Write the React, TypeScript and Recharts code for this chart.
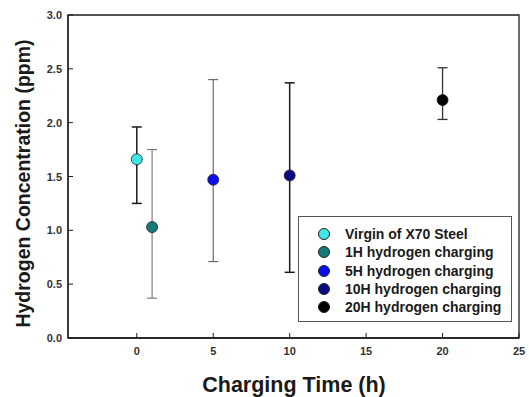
import {
  ErrorBar,
  ReferenceArea,
  Scatter,
  ScatterChart,
  XAxis,
  YAxis,
} from 'recharts'

// charging time (h) and measured hydrogen concentration (ppm)
const seriesNames = [
  'Virgin of X70 Steel',
  '1H hydrogen charging',
  '5H hydrogen charging',
  '10H hydrogen charging',
  '20H hydrogen charging',
]
const chargingTimes = [0, 1, 5, 10, 20]
const concentrations = [1.66, 1.03, 1.47, 1.51, 2.21]
const upperValues = [1.96, 1.75, 2.4, 2.37, 2.51]
const lowerValues = [1.25, 0.37, 0.71, 0.61, 2.03]

const xTicks = [0, 5, 10, 15, 20, 25]
const yTicks = [0, 0.5, 1, 1.5, 2, 2.5, 3]

const fills = ['#3ee6e6', '#167a7a', '#0a0ff0', '#0a0a86', '#000000']
const barColors = ['#1a1a1a', '#666666', '#6a6a6a', '#1a1a1a', '#333333']
const barWidths = [1.5, 1, 1.2, 1.5, 1.3]

const FONT = '"Liberation Sans", Arial, sans-serif'
const AXIS = '#1e1e1e'

function XTick({ x, y, payload }: any) {
  return (
    <g>
      <line x1={x} x2={x} y1={y} y2={y - 5} stroke={AXIS} strokeWidth={1} />
      <text
        x={x}
        y={y + 17}
        textAnchor="middle"
        fontFamily={FONT}
        fontWeight="bold"
        fontSize={11}
        fill="#333"
      >
        {payload.value}
      </text>
    </g>
  )
}

function YTick({ x, y, payload }: any) {
  return (
    <g>
      <line x1={x} x2={x + 5} y1={y} y2={y} stroke={AXIS} strokeWidth={1} />
      <text
        x={x - 6}
        y={y + 4}
        textAnchor="end"
        fontFamily={FONT}
        fontWeight="bold"
        fontSize={11}
        fill="#333"
      >
        {Number(payload.value).toFixed(1)}
      </text>
    </g>
  )
}

function XTitle({ viewBox }: any) {
  const cx = viewBox.x + viewBox.width / 2 + 0.5
  return (
    <text
      x={cx}
      y={392}
      textAnchor="middle"
      fontFamily={FONT}
      fontWeight="bold"
      fontSize={21.5}
      fill="#1a1a1a"
    >
      Charging Time (h)
    </text>
  )
}

function YTitle({ viewBox }: any) {
  const cx = 23
  const cy = viewBox.y + viewBox.height / 2 + 7
  return (
    <text
      x={cx}
      y={cy}
      transform={`rotate(-90 ${cx} ${cy})`}
      textAnchor="middle"
      dominantBaseline="central"
      fontFamily={FONT}
      fontWeight="bold"
      fontSize={19.5}
      fill="#1a1a1a"
    >
      Hydrogen Concentration (ppm)
    </text>
  )
}

function LegendBox() {
  return (
    <div
      style={{
        position: 'absolute',
        left: 298,
        top: 216,
        width: 214,
        height: 106,
        border: '1.5px solid #555',
        background: '#fff',
        padding: '8px 0 6px 19px',
        boxSizing: 'border-box',
      }}
    >
      {seriesNames.map((name, i) => (
        <div
          key={name}
          style={{
            display: 'flex',
            alignItems: 'center',
            height: 18.3,
            fontFamily: FONT,
            fontWeight: 'bold',
            fontSize: 14,
            color: '#1a1a1a',
            whiteSpace: 'nowrap',
          }}
        >
          <span
            style={{
              width: 10,
              height: 10,
              borderRadius: '50%',
              background: fills[i],
              border: '1px solid #222',
              marginRight: 15,
              flexShrink: 0,
            }}
          />
          {name}
        </div>
      ))}
    </div>
  )
}

export default function App() {
  const series = seriesNames.map((name, i) => ({
    name,
    data: [
      {
        time: chargingTimes[i],
        conc: concentrations[i],
        err: [concentrations[i] - lowerValues[i], upperValues[i] - concentrations[i]],
      },
    ],
  }))

  return (
    <div style={{ position: 'absolute', left: 0, top: 0, background: '#fff' }}>
      <ScatterChart
        width={529}
        height={397}
        margin={{ top: 15, right: 10, left: 0, bottom: 0 }}
      >
        <XAxis
          type="number"
          dataKey="time"
          domain={[-4.5, 25]}
          ticks={xTicks}
          height={59}
          tickSize={0}
          tickMargin={0}
          tickLine={false}
          tick={<XTick />}
          axisLine={{ stroke: AXIS, strokeWidth: 1.3 }}
          allowDataOverflow
          label={<XTitle />}
        />
        <YAxis
          type="number"
          dataKey="conc"
          domain={[0, 3]}
          ticks={yTicks}
          width={68}
          tickSize={0}
          tickMargin={0}
          tickLine={false}
          tick={<YTick />}
          axisLine={{ stroke: AXIS, strokeWidth: 1.3 }}
          label={<YTitle />}
        />
        <ReferenceArea
          x1={-4.5}
          x2={25}
          y1={0}
          y2={3}
          fill="none"
          stroke={AXIS}
          strokeWidth={1.3}
        />
        {series.map((s, i) => (
          <Scatter
            key={s.name}
            name={s.name}
            data={s.data}
            fill={fills[i]}
            isAnimationActive={false}
            shape={(props: any) => (
              <circle
                cx={props.cx}
                cy={props.cy}
                r={5.5}
                fill={fills[i]}
                stroke="#222"
                strokeWidth={0.8}
              />
            )}
          >
            <ErrorBar
              dataKey="err"
              direction="y"
              width={5}
              stroke={barColors[i]}
              strokeWidth={barWidths[i]}
              isAnimationActive={false}
            />
          </Scatter>
        ))}
      </ScatterChart>
      <LegendBox />
    </div>
  )
}
